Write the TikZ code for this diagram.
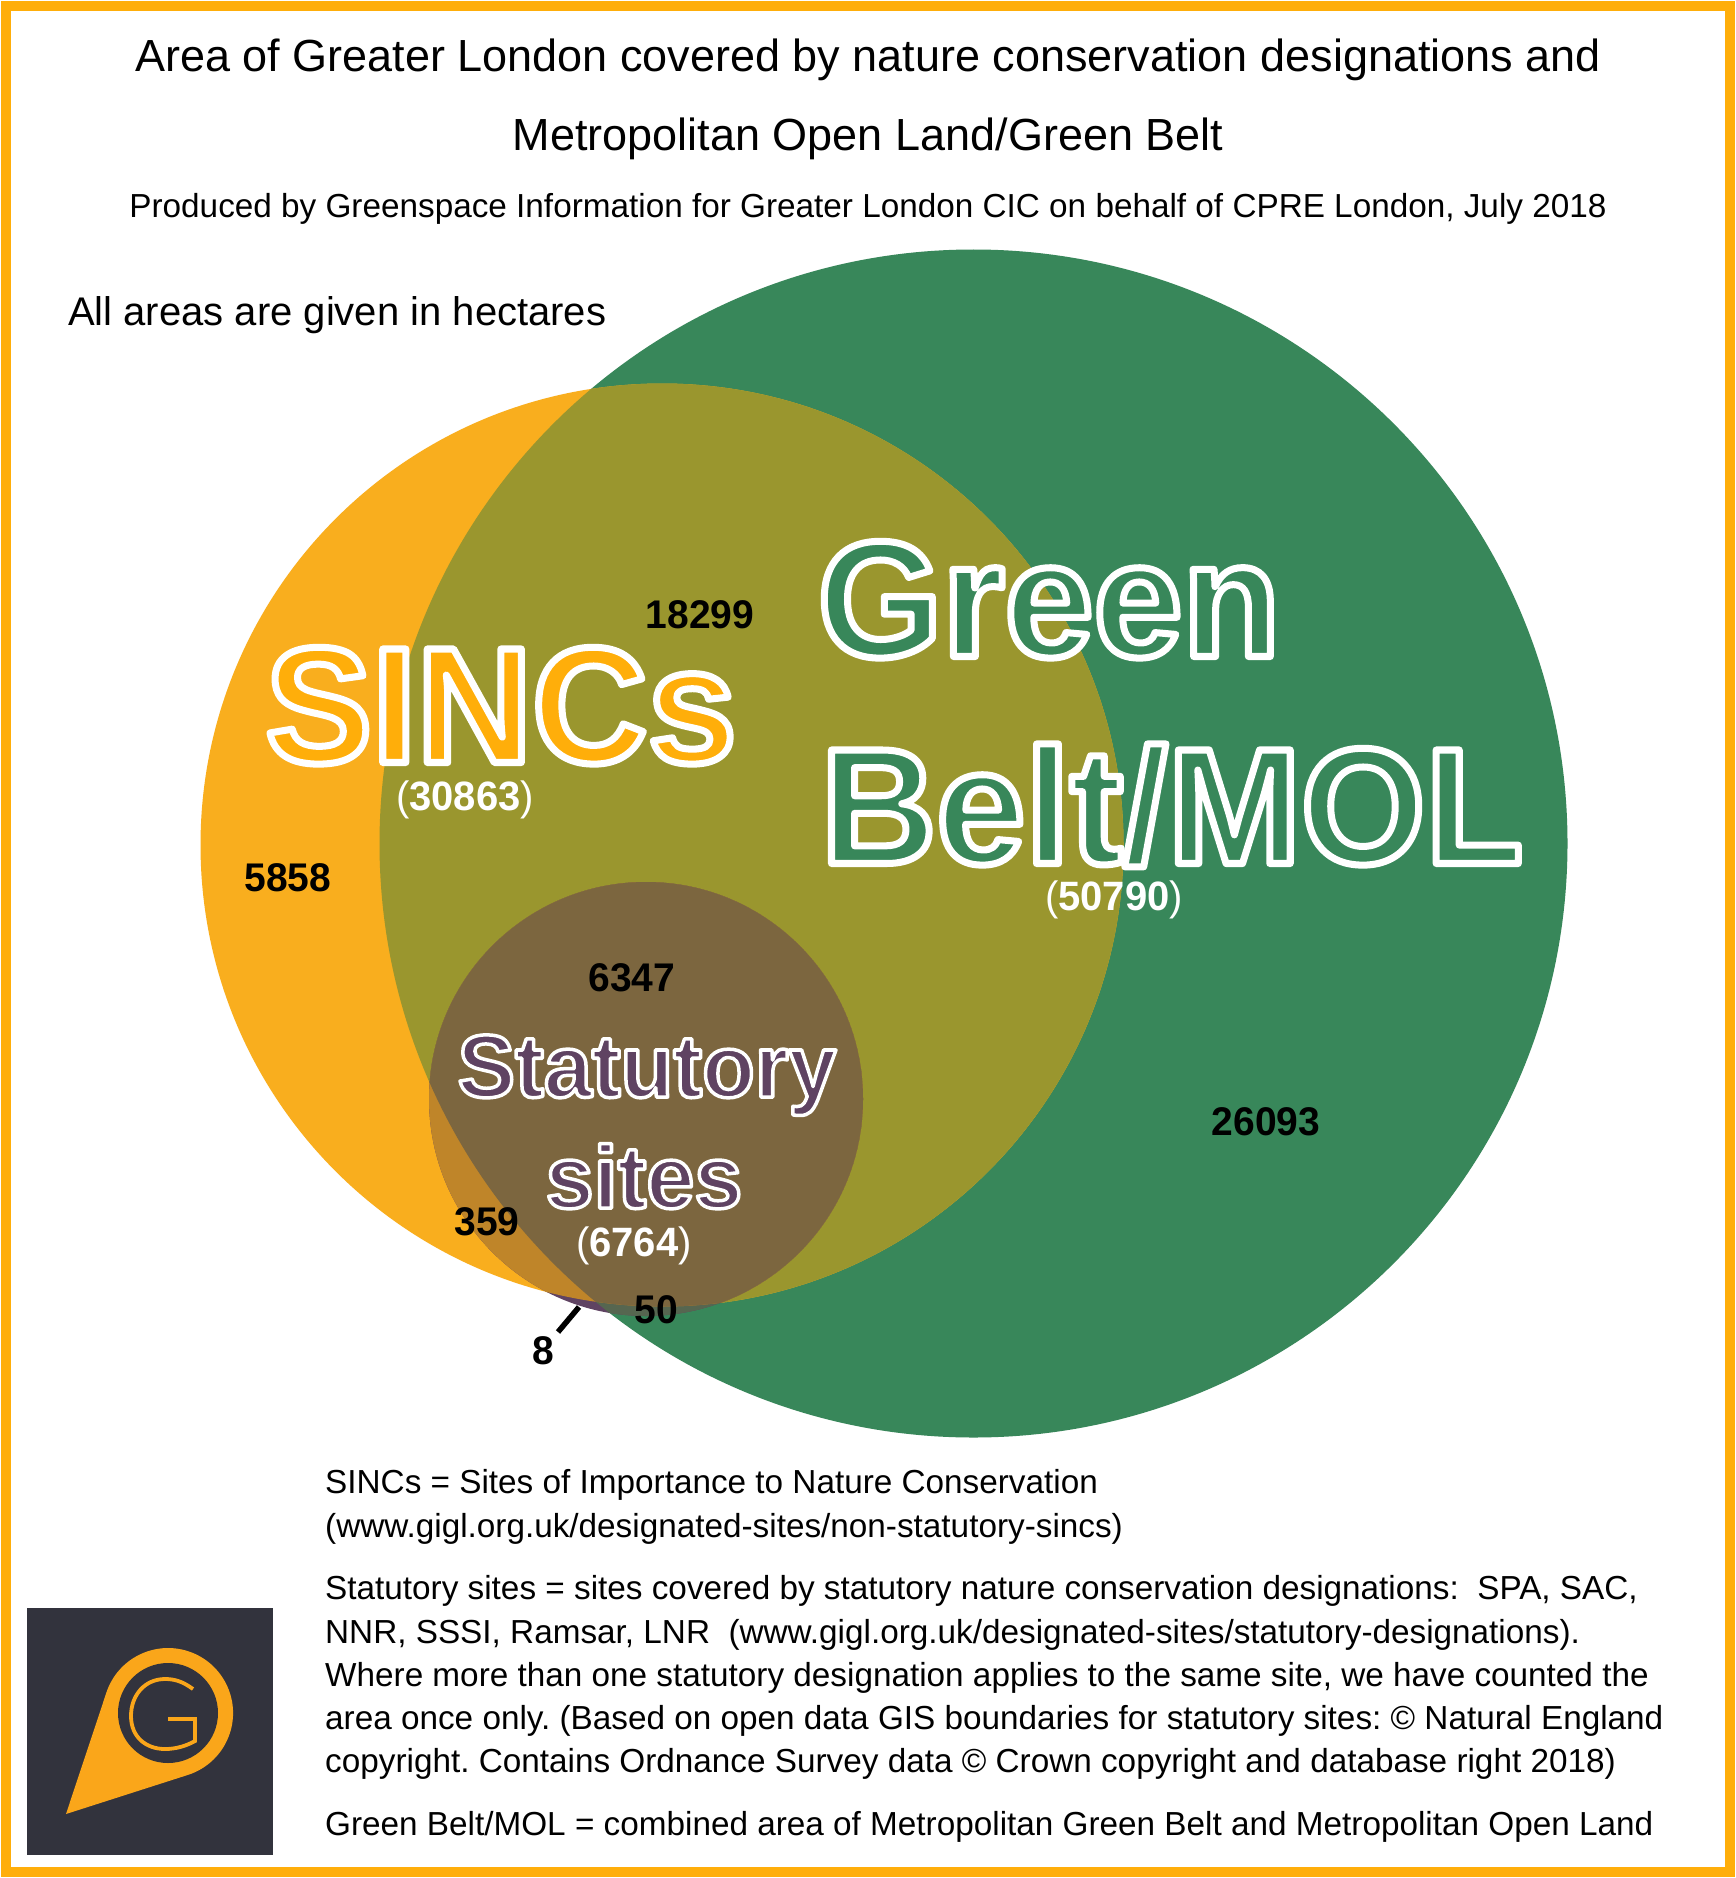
\documentclass[tikz,border=0pt]{standalone}
\usepackage{fontspec}
\setmainfont{Liberation Sans}
\newfontfamily\vennfont[FakeStretch=0.975]{Liberation Sans}
\newfontfamily\namefont[FakeStretch=0.97]{Liberation Sans}
\frenchspacing
\definecolor{borderorange}{HTML}{FFAE0A}
\definecolor{sincorange}{HTML}{F9AE1E}
\definecolor{beltgreen}{HTML}{38875A}
\definecolor{sincbelt}{HTML}{9A962E}
\definecolor{statpurple}{HTML}{5F4362}
\definecolor{statsinc}{HTML}{BF8529}
\definecolor{statbelt}{HTML}{566650}
\definecolor{statall}{HTML}{7C663F}
\definecolor{logodark}{HTML}{32333D}
\definecolor{logoorange}{HTML}{FAA61A}
\newcommand{\outlined}[2]{\special{pdf:code 2 Tr 1 j #1 w 1 1 1 RG}#2}
\newcommand{\parenbold}[1]{{\mdseries(}#1{\mdseries)}}
\tikzset{
  areanum/.style={font=\vennfont\fontsize{40}{40}\selectfont\bfseries},
  arealabel/.style={text=white, font=\vennfont\fontsize{41}{41}\selectfont\bfseries},
  bigname/.style={anchor=base, font=\namefont\fontsize{165}{165}\selectfont\bfseries},
  statname/.style={anchor=base, font=\namefont\fontsize{89}{89}\selectfont\bfseries, text=statpurple},
  bodytext/.style={anchor=north west, align=left, inner sep=0pt, font=\fontsize{33.3}{43.2}\selectfont},
}
\begin{document}
\begin{tikzpicture}[x=1pt, y=-1pt]
    \useasboundingbox (0,0) rectangle (1736,1878);
    \fill[white] (0,0) rectangle (1736,1878);

    % Outer frame
    \draw[borderorange, line width=10pt] (6,6) rectangle (1730,1872);

    % Headings
    \node[font=\fontsize{45}{45}\selectfont] (title1) at (868,60) {Area of Greater London covered by nature conservation designations and};
    \node[font=\fontsize{45}{45}\selectfont] (title2) at (868,139) {Metropolitan Open Land/Green Belt};
    \node[font=\fontsize{33.3}{33.3}\selectfont] (credit) at (868,209) {Produced by Greenspace Information for Greater London CIC on behalf of CPRE London, July 2018};
    \node[font=\fontsize{40}{40}\selectfont, anchor=west, inner sep=0pt] (units) at (68,315) {All areas are given in hectares};

    % Circles
    \coordinate (belt) at (973.5,843.5);
    \coordinate (sinc) at (662,845);
    \coordinate (stat) at (646,1099);
    \fill[beltgreen] (belt) circle (594);
    \fill[sincorange] (sinc) circle (461.5);
    \begin{scope}
      \clip (sinc) circle (461.5);
      \fill[sincbelt] (belt) circle (594);
    \end{scope}

    % Statutory circle, one colour for each overlap
    \begin{scope}
      \clip (stat) circle (217);
      \fill[statpurple] (stat) circle (217);
      \fill[statbelt] (belt) circle (594);
      \fill[statsinc] (sinc) circle (461.5);
      \clip (sinc) circle (461.5);
      \fill[statall] (belt) circle (594);
    \end{scope}

    % Names of the sets
    \node[bigname, text=borderorange] (sincname) at (501,762.5) {\outlined{7}{SINCs}};
    \node[bigname, text=beltgreen] (beltname1) at (1049,656.5) {\outlined{7}{Green}};
    \node[bigname, text=beltgreen] (beltname2) at (1172,863.5) {\outlined{7}{Belt/MOL}};
    \node[statname] (statname1) at (647,1097) {\outlined{3.5}{Statutory}};
    \node[statname] (statname2) at (644,1208) {\outlined{3.5}{sites}};

    % Totals
    \node[arealabel] (sinctotal) at (465,800) {\parenbold{30863}};
    \node[arealabel] (belttotal) at (1114,900) {\parenbold{50790}};
    \node[arealabel] (stattotal) at (634,1246) {\parenbold{6764}};

    % Areas of the regions
    \node[areanum] (a18299) at (700,615) {18299};
    \node[areanum] (a5858) at (288,878) {5858};
    \node[areanum] (a6347) at (632,978) {6347};
    \node[areanum] (a26093) at (1266,1122) {26093};
    \node[areanum] (a359) at (487,1222) {359};
    \node[areanum] (a50) at (656,1310) {50};
    \node[areanum] (a8) at (543,1351) {8};

    % Leader of the smallest region
    \coordinate (sliver) at (579,1307);
    \draw[line width=5.5pt] (a8) ++(15,-19) coordinate (leadstart) -- (sliver);

    % Notes
    \node[bodytext] (note1) at (325,1469.5) {SINCs = Sites of Importance to Nature Conservation\\(www.gigl.org.uk/designated-sites/non-statutory-sincs)};
    \node[bodytext] (note2) at (325,1575.5) {Statutory sites = sites covered by statutory nature conservation designations:\ \ SPA, SAC,\\NNR, SSSI, Ramsar, LNR\ \ (www.gigl.org.uk/designated-sites/statutory-designations).\\Where more than one statutory designation applies to the same site, we have counted the\\area once only. (Based on open data GIS boundaries for statutory sites: © Natural England\\copyright. Contains Ordnance Survey data © Crown copyright and database right 2018)};
    \node[bodytext] (note3) at (325,1811.5) {Green Belt/MOL = combined area of Metropolitan Green Belt and Metropolitan Open Land};

    % Logo
    \fill[logodark] (27,1608) rectangle (273,1855);
    \coordinate (pin) at (168,1713);
    \fill[logoorange] (66,1814) -- (106.4,1692.5) arc [start angle=198.4, end angle=432.2, radius=65] -- cycle;
    \fill[logodark] (pin) circle (50);
    \draw[logoorange, line width=3.8pt] (193,1689) .. controls (182,1681) and (174,1679) .. (165,1679)
      .. controls (145,1679) and (131,1695) .. (131,1716)
      .. controls (131,1737) and (146,1749) .. (165,1749)
      .. controls (176,1749) and (186,1746) .. (195,1741) -- (195,1719) -- (168,1719);
\end{tikzpicture}
\end{document}
